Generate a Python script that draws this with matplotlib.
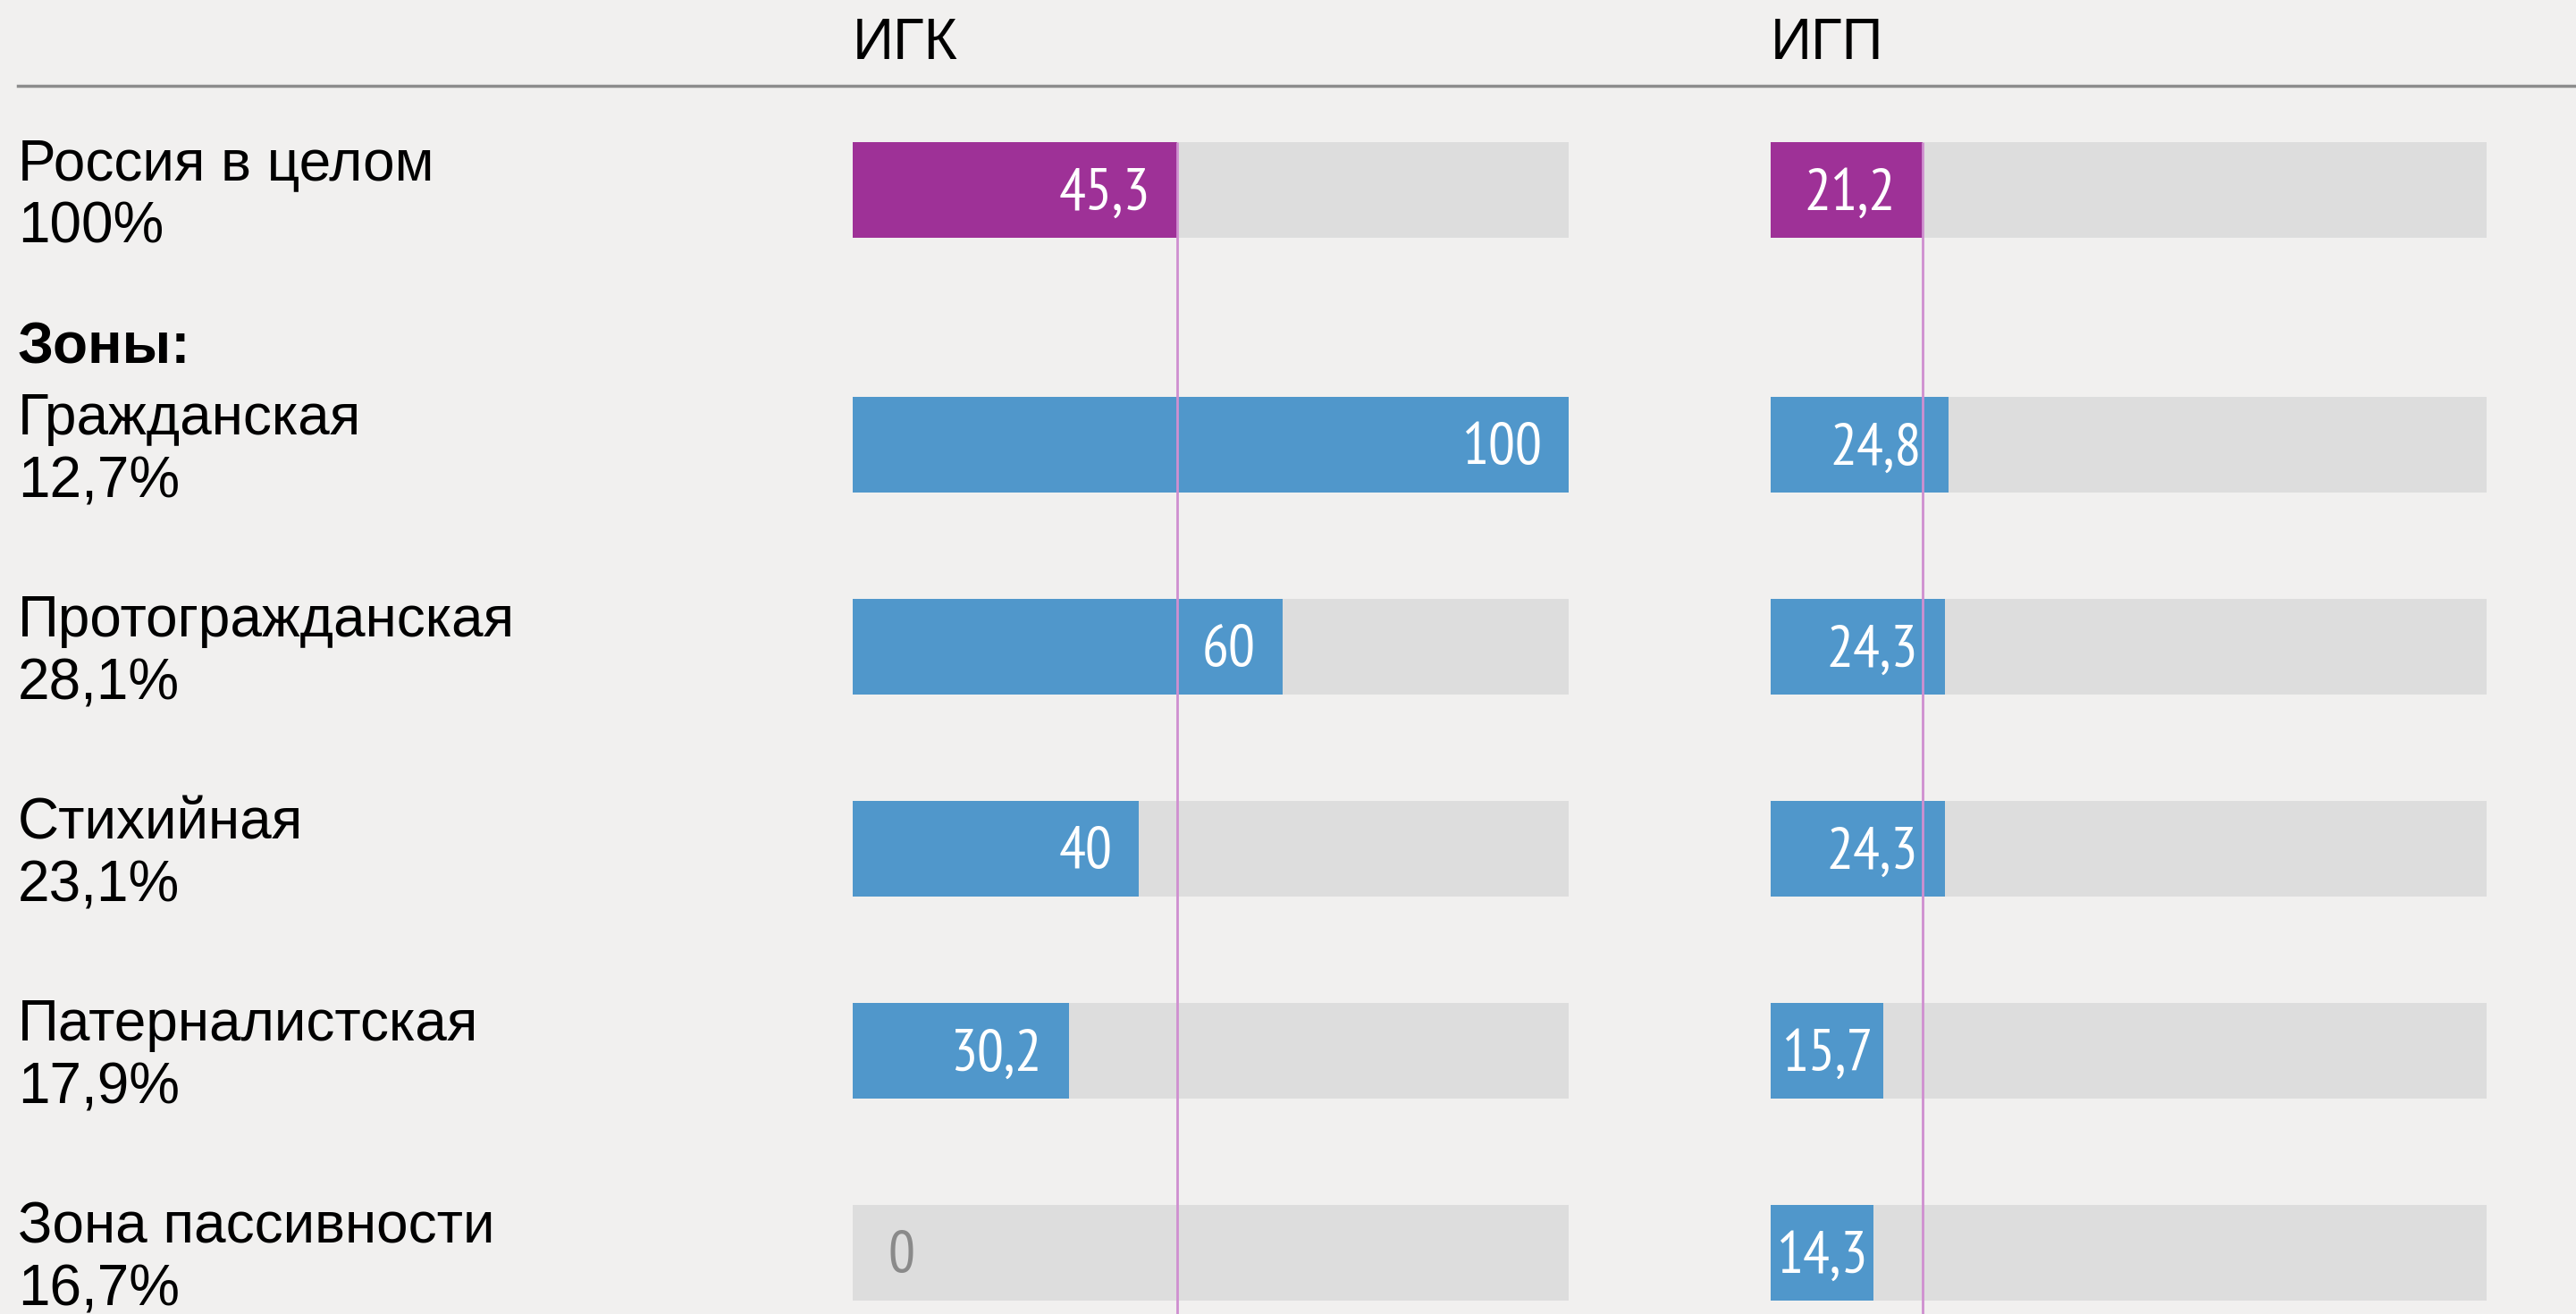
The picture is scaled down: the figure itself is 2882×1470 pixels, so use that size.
import matplotlib
matplotlib.use("Agg")
import matplotlib.pyplot as plt
from matplotlib.transforms import blended_transform_factory

# ---------------------------------------------------------------
# data
# ---------------------------------------------------------------
rows = ["Россия в целом", "Гражданская", "Протогражданская",
        "Стихийная", "Патерналистская", "Зона пассивности"]
shares = ["100%", "12,7%", "28,1%", "23,1%", "17,9%", "16,7%"]
igk = [45.3, 100, 60, 40, 30.2, 0]
igp = [21.2, 24.8, 24.3, 24.3, 15.7, 14.3]
titles = ["ИГК", "ИГП"]

# ---------------------------------------------------------------
# style
# ---------------------------------------------------------------
BG = "#f1f0ef"
TRACK = "#dddddd"
PURPLE = "#9e3197"
BLUE = "#5097cb"
REFLINE = "#cf8fd0"
LABEL_FONT = ["Liberation Sans", "DejaVu Sans"]
VALUE_FONT = ["PT Sans Narrow", "DejaVu Sans"]
LABEL_SIZE = 46
VALUE_SIZE = 48

W, H = 2882, 1470
fig = plt.figure(figsize=(W / 100, H / 100), dpi=100, facecolor=BG)

# row positions (Russia row separated by a larger gap)
ypos = [0, 1.26, 2.26, 3.26, 4.26, 5.26]
bar_h = 0.473
ylim = (5.562, -0.942)

panels = [(954, igk), (1981, igp)]
axes = []
for (left_px, vals), title in zip(panels, titles):
    ax = fig.add_axes([left_px / W, 0, 801 / W, 1])
    ax.set_facecolor("none")
    ax.set_xlim(0, 100)
    ax.set_ylim(*ylim)
    ax.axis("off")
    colors = [PURPLE] + [BLUE] * (len(vals) - 1)
    ax.barh(ypos, [100] * len(vals), height=bar_h, color=TRACK, zorder=1)
    ax.barh(ypos, vals, height=bar_h, color=colors, zorder=2)
    ref = vals[0]
    ax.vlines(ref, -bar_h / 2, ylim[0], color=REFLINE, lw=2, zorder=3)
    for y, v in zip(ypos, vals):
        txt = f"{v:g}".replace(".", ",")
        if v == 0:
            x, dx, ha, col = 0, 39, "left", "#8a8a8a"
        elif v < 20:
            x, dx, ha, col = v / 2, 0, "center", "white"
        else:
            x, dx, ha, col = v, -30, "right", "white"
        ax.annotate(txt, (x, y), xytext=(dx, -5), textcoords="offset pixels",
                    ha=ha, va="center", color=col,
                    fontsize=VALUE_SIZE, family=VALUE_FONT, zorder=4)
    ax.text(0, 1 - 49 / H, title,
            transform=blended_transform_factory(ax.transData, fig.transFigure),
            ha="left", va="center", fontsize=LABEL_SIZE, family=LABEL_FONT,
            color="black")
    axes.append(ax)

# header rule
fig.add_artist(plt.Line2D([20 / W, 1], [1 - 96 / H, 1 - 96 / H],
                          color="#8c8c8c", lw=2.5))

# row labels
tr = blended_transform_factory(fig.transFigure, axes[0].transData)
for y, name, share in zip(ypos, rows, shares):
    fig.text(20 / W, y - 0.125, name, transform=tr, fontsize=LABEL_SIZE,
             family=LABEL_FONT, ha="left", va="center")
    fig.text(20 / W, y + 0.185, share, transform=tr, fontsize=LABEL_SIZE,
             family=LABEL_FONT, ha="left", va="center")
fig.text(20 / W, 0.78, "Зоны:", transform=tr, fontsize=LABEL_SIZE,
         family=LABEL_FONT, fontweight="bold", ha="left", va="center")

fig.savefig("out.png", dpi=100, facecolor=BG)
